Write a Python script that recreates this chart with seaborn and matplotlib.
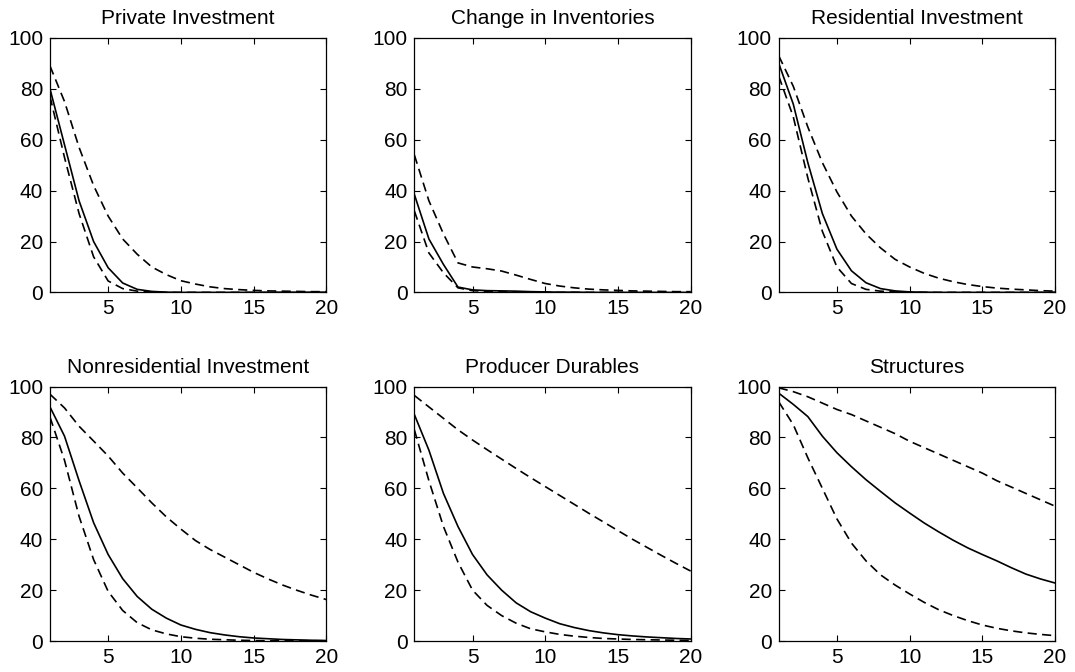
import numpy as np
import pandas as pd
import matplotlib
matplotlib.use("Agg")
import matplotlib.pyplot as plt
import seaborn as sns


#%% data: share (%) by horizon, point estimate and the two bands
horizon = list(range(1, 21))

titles = ['Private Investment', 'Change in Inventories', 'Residential Investment',
          'Nonresidential Investment', 'Producer Durables', 'Structures']

priv_mid = [80, 58, 36, 20, 9.7, 3.7, 1.2, 0.4, 0.1, 0, 0, 0, 0, 0, 0, 0, 0, 0, 0, 0]
priv_lo  = [77, 53, 31, 14, 4.5, 1.5, 0.5, 0.2, 0, 0, 0, 0, 0, 0, 0, 0, 0, 0, 0, 0]
priv_hi  = [89, 75, 57, 42, 30, 21, 15, 10, 7, 4.6, 3.3, 2.2, 1.5, 1.1, 0.8, 0.6, 0.5, 0.4, 0.3, 0.3]

inv_mid = [38.5, 21, 11, 2.1, 1.0, 0.7, 0.6, 0.5, 0.3, 0.2, 0.1, 0.1, 0, 0, 0, 0, 0, 0, 0, 0]
inv_lo  = [32, 15.5, 7.7, 1.8, 0.7, 0.4, 0.3, 0.2, 0.1, 0, 0, 0, 0, 0, 0, 0, 0, 0, 0, 0]
inv_hi  = [54, 36, 23, 11.6, 10, 9.3, 8.4, 6.8, 5.1, 3.5, 2.5, 1.8, 1.3, 1.0, 0.8, 0.6, 0.5, 0.4, 0.3, 0.3]

res_mid = [90, 74, 51, 31, 17, 8.5, 3.8, 1.5, 0.6, 0.2, 0.1, 0, 0, 0, 0, 0, 0, 0, 0, 0]
res_lo  = [85, 69, 45, 24, 10, 3.5, 1.2, 0.5, 0.2, 0, 0, 0, 0, 0, 0, 0, 0, 0, 0, 0]
res_hi  = [93, 81, 65, 51, 39.5, 30, 23, 17.5, 13, 10, 7.5, 5.6, 4.2, 3.1, 2.3, 1.7, 1.3, 1.0, 0.7, 0.5]

nonres_mid = [92, 80.5, 63, 46.5, 34, 24.5, 17.5, 12.5, 9, 6.3, 4.6, 3.3, 2.4, 1.7, 1.2, 0.9, 0.6, 0.45, 0.3, 0.2]
nonres_lo  = [88, 71, 49, 32, 19.5, 12, 7.2, 4.4, 2.8, 1.7, 1.1, 0.7, 0.5, 0.3, 0.2, 0.1, 0.1, 0.1, 0.1, 0.1]
nonres_hi  = [97, 91.6, 84.4, 78.6, 72.7, 66, 60.2, 54.3, 48.8, 44, 39.5, 36, 33, 30, 27, 24.4, 22, 19.9, 18, 16.3]

dur_mid = [89, 75, 58, 45, 34, 26, 20, 15, 11.5, 9, 6.8, 5.3, 4.1, 3.2, 2.5, 2.0, 1.6, 1.3, 1.0, 0.8]
dur_lo  = [83, 63, 45, 31, 20, 14, 10, 7, 4.8, 3.6, 2.6, 1.9, 1.4, 1.0, 0.8, 0.6, 0.5, 0.4, 0.3, 0.2]
dur_hi  = [96.5, 92, 87.5, 83, 79, 75.2, 71.5, 67.8, 64.2, 60.7, 57.2, 53.7, 50.2, 46.8, 43.4, 40, 36.8, 33.6, 30.5, 27.5]

str_mid = [97.4, 93, 88.2, 80.5, 74, 68.5, 63.4, 58.8, 54.3, 50.3, 46.4, 42.9, 39.6, 36.6, 34, 31.5, 28.8, 26.3, 24.4, 22.8]
str_lo  = [94, 85, 72, 60, 48, 38.5, 31.5, 26, 22, 18.5, 15.2, 12.3, 10, 8, 6.3, 5, 4, 3.2, 2.6, 2.1]
str_hi  = [99.5, 98, 96, 93.5, 91, 89, 86.5, 84, 81.5, 78.5, 76, 73.5, 71, 68.5, 66, 63, 60.5, 58, 55.5, 53]

mids = [priv_mid, inv_mid, res_mid, nonres_mid, dur_mid, str_mid]
los  = [priv_lo, inv_lo, res_lo, nonres_lo, dur_lo, str_lo]
his  = [priv_hi, inv_hi, res_hi, nonres_hi, dur_hi, str_hi]
#%%

sns.set_style("ticks")
plt.rcParams['font.family'] = ['Liberation Sans', 'DejaVu Sans']
plt.rcParams['font.size'] = 15
plt.rcParams['text.color'] = 'black'
plt.rcParams['xtick.color'] = 'black'
plt.rcParams['ytick.color'] = 'black'
plt.rcParams['axes.edgecolor'] = 'black'

fig, axes = plt.subplots(2, 3, figsize=(10.75, 6.72), dpi=100)
plt.subplots_adjust(left=0.0465, right=0.9814, top=0.9435, bottom=0.0461,
                    wspace=0.319, hspace=0.37)

dash = (0, (5.5, 3.2))
for ax, title, mid, lo, hi in zip(axes.flat, titles, mids, los, his):
    df = pd.DataFrame({'h': horizon, 'mid': mid, 'lo': lo, 'hi': hi})
    sns.lineplot(data=df, x='h', y='mid', ax=ax, color='black', lw=1.2)
    sns.lineplot(data=df, x='h', y='lo', ax=ax, color='black', lw=1.2, linestyle=dash)
    sns.lineplot(data=df, x='h', y='hi', ax=ax, color='black', lw=1.2, linestyle=dash)
    ax.set_xlim(1, 20)
    ax.set_ylim(0, 100)
    ax.set_xticks([5, 10, 15, 20])
    ax.set_yticks([0, 20, 40, 60, 80, 100])
    ax.set_xlabel('')
    ax.set_ylabel('')
    ax.set_title(title, fontsize=15, pad=10, color='black')
    ax.tick_params(direction='in', top=True, right=True, length=4, width=0.8,
                   labelsize=15, pad=5, colors='black')
    for s in ax.spines.values():
        s.set_linewidth(0.9)
        s.set_visible(True)

plt.savefig('out.png', dpi=100)
